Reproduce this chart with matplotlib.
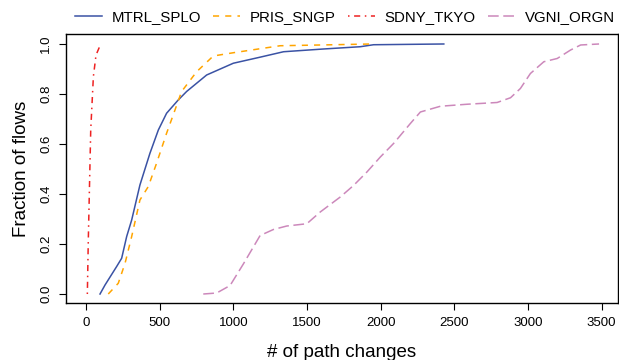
import numpy as np
import matplotlib.pyplot as plt

# CDF points (x = # of path changes, y = fraction of flows)
mtrl_x = [95, 129, 208, 242, 276, 310, 366, 434, 491, 547, 626, 683, 819, 1000,
          1180, 1341, 1613, 1861, 1952, 2429]
mtrl_y = [0.0, 0.036, 0.11, 0.143, 0.23, 0.296, 0.436, 0.563, 0.656, 0.723, 0.776,
          0.81, 0.876, 0.923, 0.947, 0.969, 0.98, 0.989, 0.997, 1.0]

pris_x = [151, 219, 265, 310, 366, 423, 479, 547, 604, 649, 751, 864, 1000, 1091,
          1318, 1590, 1940]
pris_y = [0.0, 0.043, 0.123, 0.23, 0.376, 0.43, 0.523, 0.643, 0.736, 0.81, 0.889,
          0.952, 0.965, 0.973, 0.993, 0.996, 1.0]

sdny_x = [9, 15, 22, 32, 50, 68, 100]
sdny_y = [0.0, 0.2, 0.39, 0.656, 0.87, 0.956, 1.0]

vgni_x = [796, 887, 978, 1068, 1182, 1272, 1363, 1499, 1590, 1726, 1816, 1907,
          1998, 2088, 2202, 2270, 2406, 2587, 2791, 2882, 2949, 3017, 3108, 3199,
          3290, 3358, 3483]
vgni_y = [0.0, 0.004, 0.034, 0.12, 0.234, 0.258, 0.272, 0.281, 0.328, 0.388, 0.434,
          0.488, 0.548, 0.602, 0.682, 0.728, 0.751, 0.759, 0.766, 0.785, 0.822,
          0.882, 0.929, 0.942, 0.976, 0.996, 1.0]

names = ['MTRL_SPLO', 'PRIS_SNGP', 'SDNY_TKYO', 'VGNI_ORGN']
colors = ['#3a52a4', '#ffa500', '#ee2222', '#cc88bb']
dashes = [None, (4, 4), (1, 3, 4, 3), (7, 3)]

plt.rcParams['font.family'] = ['Liberation Sans', 'DejaVu Sans']

fig = plt.figure(figsize=(6.19, 3.6), dpi=100)
ax = fig.add_axes([0.1066, 0.1583, 0.8914, 0.7473])

series = [(mtrl_x, mtrl_y), (pris_x, pris_y), (sdny_x, sdny_y), (vgni_x, vgni_y)]
handles = []
for (xs, ys), name, c, d in zip(series, names, colors, dashes):
    ln, = ax.plot(xs, ys, color=c, lw=1.1, label=name)
    if d is not None:
        ln.set_dashes(d)
    handles.append(ln)

ax.set_xlim(-136, 3610)
ax.set_ylim(-0.036, 1.04)
ax.set_xticks(np.arange(0, 3501, 500))
ax.set_yticks([0.0, 0.2, 0.4, 0.6, 0.8, 1.0])
ax.set_yticklabels(['0.0', '0.2', '0.4', '0.6', '0.8', '1.0'], rotation=90, va='center')
ax.tick_params(direction='out', length=5, width=0.8, labelsize=9.5, pad=5)
for s in ax.spines.values():
    s.set_linewidth(1.0)

ax.set_xlabel('# of path changes', fontsize=13.5, labelpad=11)
ax.set_ylabel('Fraction of flows', fontsize=13.5, labelpad=7)

fig.legend(handles=handles, labels=names, loc='center', bbox_to_anchor=(0.557, 0.952),
           ncol=4, frameon=False, fontsize=10.8, handlelength=1.8, handletextpad=0.65,
           columnspacing=0.8)

fig.savefig('out.png', dpi=100)
